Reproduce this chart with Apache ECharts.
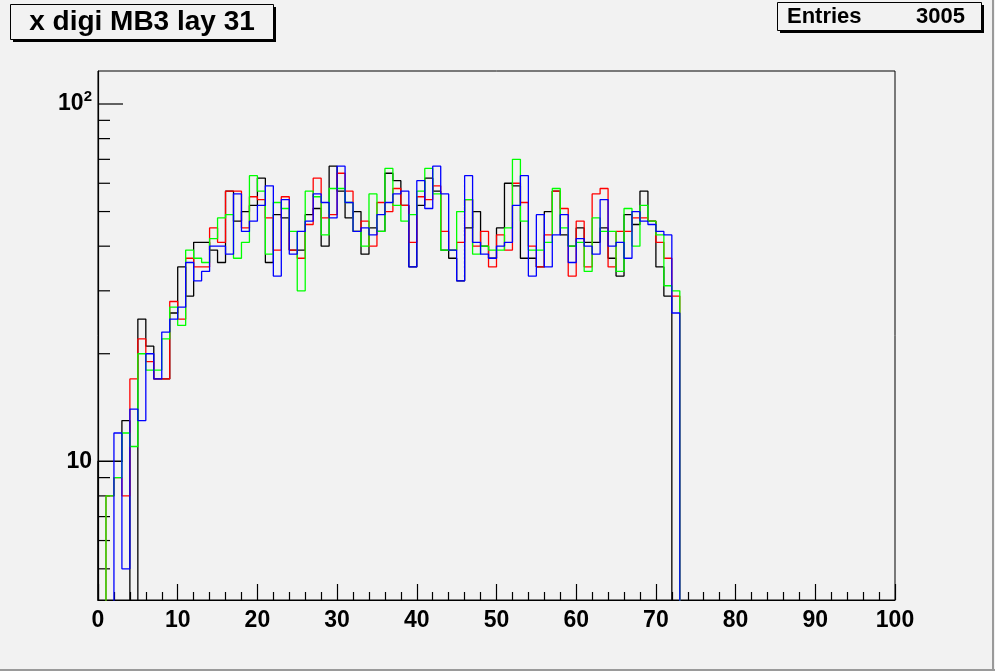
<!DOCTYPE html>
<html>
<head>
<meta charset="utf-8">
<script src="https://cdn.jsdelivr.net/npm/echarts@6/dist/echarts.min.js"></script>
<style>
html,body{margin:0;padding:0;background:#f2f2f2;}
#c{width:995px;height:671px;}
</style>
</head>
<body>
<div id="c"></div>
<script>
// ---- data (bin contents, bins of width 1 starting at 0) ----
const titleText = 'x digi MB3 lay 31';
const entriesLabel = 'Entries';
const entriesValue = '3005';
const xTicks = [0, 10, 20, 30, 40, 50, 60, 70, 80, 90, 100];
const yMajorTicks = [10, 100];
const yMinorTicks = [5, 6, 7, 8, 9, 20, 30, 40, 50, 60, 70, 80, 90];

const blackCounts = [10,10,10,13,0,25,21,17,17,26,35,29,41,41,39,36,57,47,50,52,62,36,49,48,39,39,49,51,40,67,57,48,50,38,45,44,64,61,52,35,52,62,57,39,37,32,45,50,40,37,45,60,59,37,37,35,50,57,43,40,45,41,41,45,37,33,49,46,57,47,35,29,0];
const redCounts = [0,8,9,8,17,22,19,17,17,28,25,37,35,35,45,41,57,57,45,55,54,48,39,55,39,37,46,62,48,49,64,57,44,47,40,53,50,58,52,41,55,54,59,44,39,41,54,40,44,35,43,39,60,53,40,35,43,57,51,33,47,35,56,58,35,44,44,48,48,47,41,37,29];
const greenCounts = [0,8,9,12,11,20,18,18,22,27,24,39,37,36,42,48,49,37,41,63,57,38,53,51,44,30,57,55,43,58,58,53,44,40,56,44,66,52,47,49,57,66,56,39,39,50,54,38,40,39,39,45,70,47,39,39,41,58,45,40,41,34,48,44,44,34,51,40,52,47,43,31,30];
const blueCounts = [0,0,12,5,14,13,20,17,23,25,27,36,32,34,40,40,38,56,44,47,52,59,33,54,38,44,47,56,53,48,67,53,44,45,43,49,53,56,57,35,61,51,67,56,39,32,63,41,38,37,40,41,52,63,33,49,35,43,49,36,42,40,38,54,40,41,37,50,47,46,44,43,26];

const X_MIN = 0, X_MAX = 100, Y_MIN = 4.09, Y_MAX = 123.7;
const FLOOR = 1; // below the axis minimum: empty bins drop out of view

function histPoints(counts) {
  const pts = [[0, FLOOR]];
  counts.forEach(function (v, i) {
    const y = v > 0 ? v : FLOOR;
    pts.push([i, y]);
    pts.push([i + 1, y]);
  });
  pts.push([counts.length, FLOOR]);
  return pts;
}

const FONT = '"Liberation Sans", Arial, Helvetica, sans-serif';

function histSeries(name, counts, color) {
  return {
    name: name, type: 'line', data: histPoints(counts),
    showSymbol: false, symbol: 'none', clip: true, animation: false,
    lineStyle: { color: color, width: 1.3 }, silent: true
  };
}

function tickSeries(values, len) {
  return {
    type: 'custom', silent: true, clip: false, animation: false,
    data: values.map(function (v) { return [X_MIN, v]; }),
    renderItem: function (params, api) {
      const p = api.coord([api.value(0), api.value(1)]);
      return { type: 'line', shape: { x1: p[0], y1: p[1], x2: p[0] + len, y2: p[1] },
               style: { stroke: '#000', lineWidth: 1.2 } };
    }
  };
}

const chart = echarts.init(document.getElementById('c'), null, { renderer: 'canvas' });
chart.setOption({
  backgroundColor: '#f2f2f2',
  animation: false,
  grid: { left: 98, right: 100, top: 71, bottom: 71, show: true,
          borderColor: '#000', borderWidth: 1, backgroundColor: 'transparent' },
  xAxis: {
    type: 'value', min: X_MIN, max: X_MAX, interval: 10,
    axisLine: { show: true, onZero: false, lineStyle: { color: '#000', width: 1.2 } },
    axisTick: { show: true, inside: true, length: 16, lineStyle: { color: '#000', width: 1.2 } },
    minorTick: { show: true, splitNumber: 5, length: 8, lineStyle: { color: '#000', width: 1.2 } },
    splitLine: { show: false },
    axisLabel: { color: '#000', fontFamily: FONT, fontWeight: 'bold', fontSize: 23, margin: 9,
      formatter: function (v) { return xTicks.indexOf(v) >= 0 ? String(v) : ''; } }
  },
  yAxis: {
    type: 'log', logBase: 10, min: Y_MIN, max: Y_MAX,
    axisLine: { show: true, lineStyle: { color: '#000', width: 1.2 } },
    axisTick: { show: false },
    splitLine: { show: false },
    axisLabel: {
      color: '#000', fontFamily: FONT, fontWeight: 'bold', fontSize: 23, margin: 6,
      formatter: function (v) {
        for (let i = 0; i < yMajorTicks.length; i++) {
          const t = yMajorTicks[i];
          if (Math.abs(v - t) / t < 1e-6) {
            if (t === 10) return '{b|10}';
            const e = Math.round(Math.log10(t));
            return '{b|10}{s|' + e + '}';
          }
        }
        return '';
      },
      rich: {
        b: { fontFamily: FONT, fontWeight: 'bold', fontSize: 23, color: '#000' },
        s: { fontFamily: FONT, fontWeight: 'bold', fontSize: 15, color: '#000', padding: [0, 0, 14, 0] }
      }
    }
  },
  series: [
    histSeries('black', blackCounts, '#000000'),
    histSeries('red', redCounts, '#ff0000'),
    histSeries('green', greenCounts, '#00ff00'),
    histSeries('blue', blueCounts, '#0000ff'),
    tickSeries(yMajorTicks, 25),
    tickSeries(yMinorTicks, 12)
  ],
  graphic: [
    // canvas bevel
    { type: 'line', shape: { x1: 993, y1: 0, x2: 993, y2: 671 }, style: { stroke: '#9a9a9a', lineWidth: 2 }, z: 10 },
    { type: 'line', shape: { x1: 0, y1: 670, x2: 995, y2: 670 }, style: { stroke: '#9a9a9a', lineWidth: 2 }, z: 10 },
    // title pave
    { type: 'rect', shape: { x: 13, y: 7, width: 263, height: 35 }, style: { fill: '#000' }, z: 10 },
    { type: 'rect', shape: { x: 10.5, y: 4.5, width: 263, height: 35 }, style: { fill: '#f2f2f2', stroke: '#000', lineWidth: 1 }, z: 11 },
    { type: 'text', x: 142, y: 22, style: { text: titleText, fill: '#000', font: 'bold 28px ' + FONT, align: 'center', verticalAlign: 'middle' }, z: 12 },
    // stats pave
    { type: 'rect', shape: { x: 780, y: 5, width: 204, height: 28 }, style: { fill: '#000' }, z: 10 },
    { type: 'rect', shape: { x: 777.5, y: 2.5, width: 204, height: 28 }, style: { fill: '#f2f2f2', stroke: '#000', lineWidth: 1 }, z: 11 },
    { type: 'text', x: 787, y: 17, style: { text: entriesLabel, fill: '#000', font: 'bold 22px ' + FONT, align: 'left', verticalAlign: 'middle' }, z: 12 },
    { type: 'text', x: 965, y: 17, style: { text: entriesValue, fill: '#000', font: 'bold 22px ' + FONT, align: 'right', verticalAlign: 'middle' }, z: 12 }
  ]
});
</script>
</body>
</html>
